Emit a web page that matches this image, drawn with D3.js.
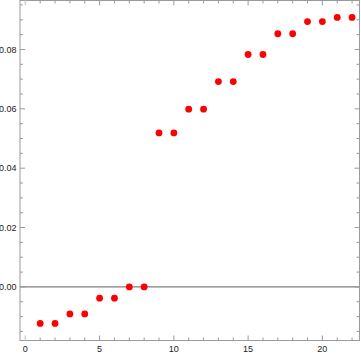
<!DOCTYPE html>
<html><head><meta charset="utf-8">
<script src="https://cdn.jsdelivr.net/npm/d3@7"></script>
<style>body{margin:0;background:#fff}svg{display:block}</style>
</head><body>
<svg id="c" width="361" height="356"></svg>
<script>
const xs = [1,2,3,4,5,6,7,8,9,10,11,12,13,14,15,16,17,18,19,20,21,22];
const ys = [-0.0123,-0.0123,-0.0091,-0.0091,-0.0038,-0.0038,0,0,0.0519,0.0519,0.0599,0.0599,0.0692,0.0692,0.0783,0.0783,0.0853,0.0853,0.0894,0.0894,0.0908,0.0908];
const xTickLabels = [0,5,10,15,20];
const yTickLabels = [0.00,0.02,0.04,0.06,0.08];

const svg = d3.select("#c");
const L=20, R=359.5, T=0.5, B=340.5;
const x = d3.scaleLinear().domain([-0.36,22.5]).range([L,R]);
const y = d3.scaleLinear().domain([-0.01805,0.0965]).range([B,T]);
const frameCol="#9a9a9a";

// zero axis line
svg.append("line").attr("x1",L).attr("x2",R).attr("y1",y(0)).attr("y2",y(0))
  .attr("stroke","#808080").attr("stroke-width",1.2);

// frame
svg.append("rect").attr("x",L).attr("y",T).attr("width",R-L).attr("height",B-T)
  .attr("fill","none").attr("stroke",frameCol).attr("stroke-width",1);

const xMinor = d3.range(0,23,1);
const yMinor = d3.range(-0.015,0.0951,0.005).map(v=>+v.toFixed(3));
const g = svg.append("g").attr("stroke",frameCol).attr("stroke-width",1);
xMinor.forEach(v=>{
  const major = v%5===0; const len = major?5:3;
  const col = v===0?"#d0d0d0":frameCol;
  g.append("line").attr("x1",x(v)).attr("x2",x(v)).attr("y1",B).attr("y2",B-len).attr("stroke",col).attr("stroke-width",v===0?1.5:1);
  g.append("line").attr("x1",x(v)).attr("x2",x(v)).attr("y1",T).attr("y2",T+len).attr("stroke",col).attr("stroke-width",v===0?1.5:1);
});
yMinor.forEach(v=>{
  const major = Math.abs(Math.round(v*1000)%20)===0; const len = major?5:3;
  g.append("line").attr("y1",y(v)).attr("y2",y(v)).attr("x1",L).attr("x2",L+len);
  g.append("line").attr("y1",y(v)).attr("y2",y(v)).attr("x1",R).attr("x2",R-len);
});

// labels
svg.append("g").selectAll("text").data(xTickLabels).join("text")
  .attr("x",d=>x(d)).attr("y",352).attr("text-anchor","middle")
  .attr("font-family","Liberation Sans, Arial, sans-serif").attr("font-size",9).attr("fill","#222")
  .text(d=>d);
svg.append("g").selectAll("text").data(yTickLabels).join("text")
  .attr("x",16.5).attr("y",d=>y(d)+3.2).attr("text-anchor","end")
  .attr("font-family","Liberation Sans, Arial, sans-serif").attr("font-size",9).attr("fill","#222")
  .text(d=>d3.format(".2f")(d));

// points
svg.append("g").selectAll("circle").data(xs.map((d,i)=>[d,ys[i]])).join("circle")
  .attr("cx",d=>x(d[0])).attr("cy",d=>y(d[1])).attr("r",3.4).attr("fill","#ff0000");
</script>
</body></html>
